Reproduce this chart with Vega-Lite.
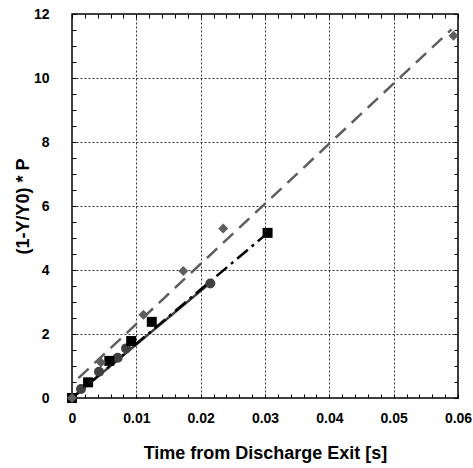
{
  "$schema": "https://vega.github.io/schema/vega-lite/v6.json",
  "width": 386,
  "height": 384,
  "autosize": "none",
  "padding": {"left": 72, "top": 14, "right": 15, "bottom": 70},
  "background": "white",
  "config": {
    "view": {"stroke": "black", "strokeWidth": 1.5},
    "axis": {
      "labelFontWeight": "bold",
      "labelFontSize": 14,
      "labelColor": "black",
      "titleFontWeight": "bold",
      "titleFontSize": 18,
      "titleColor": "black",
      "tickColor": "black"
    }
  },
  "datasets": {
    "pts": [
      {"series": "20 Torr", "t": 0, "v": 0},
      {"series": "20 Torr", "t": 0.0014, "v": 0.28},
      {"series": "20 Torr", "t": 0.0042, "v": 0.82},
      {"series": "20 Torr", "t": 0.0071, "v": 1.26},
      {"series": "20 Torr", "t": 0.0084, "v": 1.55},
      {"series": "20 Torr", "t": 0.0215, "v": 3.58},
      {"series": "30 Torr", "t": 0, "v": 0},
      {"series": "30 Torr", "t": 0.0025, "v": 0.49},
      {"series": "30 Torr", "t": 0.0058, "v": 1.16},
      {"series": "30 Torr", "t": 0.0092, "v": 1.78},
      {"series": "30 Torr", "t": 0.0124, "v": 2.38},
      {"series": "30 Torr", "t": 0.0304, "v": 5.16},
      {"series": "50 Torr", "t": 0, "v": 0},
      {"series": "50 Torr", "t": 0.0045, "v": 1.11},
      {"series": "50 Torr", "t": 0.0111, "v": 2.6},
      {"series": "50 Torr", "t": 0.0173, "v": 3.97},
      {"series": "50 Torr", "t": 0.0235, "v": 5.3},
      {"series": "50 Torr", "t": 0.0593, "v": 11.32}
    ],
    "fits": [
      {"series": "20 Torr", "t": 0, "v": 0},
      {"series": "20 Torr", "t": 0.0215, "v": 3.6},
      {"series": "30 Torr", "t": 0, "v": 0},
      {"series": "30 Torr", "t": 0.0302, "v": 5.12},
      {"series": "50 Torr", "t": 0.001, "v": 0.62},
      {"series": "50 Torr", "t": 0.059, "v": 11.52}
    ]
  },
  "resolve": {"axis": {"x": "independent", "y": "independent"}},
  "layer": [
    {
      "data": {"name": "pts"},
      "mark": {"type": "point", "opacity": 0},
      "encoding": {
        "x": {
          "field": "t", "type": "quantitative",
          "scale": {"domain": [0, 0.06], "nice": false, "zero": false},
          "axis": {
            "orient": "bottom", "title": null, "labels": false, "ticks": false, "domain": false,
            "grid": true, "gridColor": "#333333", "gridDash": [2, 2], "gridWidth": 1, "gridOpacity": 1,
            "values": [0.01, 0.02, 0.03, 0.04, 0.05]
          }
        },
        "y": {
          "field": "v", "type": "quantitative",
          "scale": {"domain": [0, 12], "nice": false, "zero": false},
          "axis": {
            "orient": "left", "title": null, "labels": false, "ticks": false, "domain": false,
            "grid": true, "gridColor": "#333333", "gridDash": [2, 2], "gridWidth": 1, "gridOpacity": 1,
            "values": [2, 4, 6, 8, 10]
          }
        }
      }
    },
    {
      "data": {"name": "fits"},
      "mark": {"type": "line", "strokeWidth": 2.5},
      "encoding": {
        "x": {
          "field": "t", "type": "quantitative",
          "scale": {"domain": [0, 0.06], "nice": false, "zero": false},
          "axis": {
            "orient": "top", "title": null, "labels": false, "grid": false, "domain": false,
            "tickSize": -4,
            "values": [0,0.002,0.004,0.006,0.008,0.01,0.012,0.014,0.016,0.018,0.02,0.022,0.024,0.026,0.028,0.03,0.032,0.034,0.036,0.038,0.04,0.042,0.044,0.046,0.048,0.05,0.052,0.054,0.056,0.058,0.06]
          }
        },
        "y": {
          "field": "v", "type": "quantitative",
          "scale": {"domain": [0, 12], "nice": false, "zero": false},
          "axis": {
            "orient": "right", "title": null, "labels": false, "grid": false, "domain": false,
            "tickSize": -4,
            "values": [0,0.5,1,1.5,2,2.5,3,3.5,4,4.5,5,5.5,6,6.5,7,7.5,8,8.5,9,9.5,10,10.5,11,11.5,12]
          }
        },
        "detail": {"field": "series"},
        "color": {
          "field": "series", "type": "nominal",
          "scale": {"domain": ["20 Torr", "30 Torr", "50 Torr"], "range": ["#404040", "#000000", "#5e5e5e"]},
          "legend": null
        },
        "strokeDash": {
          "field": "series", "type": "nominal",
          "scale": {"domain": ["20 Torr", "30 Torr", "50 Torr"], "range": [[1, 0], [14, 5, 3, 5], [14, 8]]},
          "legend": null
        }
      }
    },
    {
      "data": {"name": "pts"},
      "mark": {"type": "point", "filled": true, "opacity": 1, "size": 100},
      "encoding": {
        "x": {
          "field": "t", "type": "quantitative",
          "scale": {"domain": [0, 0.06], "nice": false, "zero": false},
          "axis": {
            "orient": "bottom",
            "title": "Time from Discharge Exit [s]",
            "titlePadding": 19,
            "labelPadding": 17,
            "grid": false,
            "domain": false,
            "labelFlush": false,
            "tickSize": -4,
            "format": ".2~f",
            "labelExpr": "abs(datum.value*100 - round(datum.value*100)) < 0.001 ? datum.label : ''",
            "values": [0,0.002,0.004,0.006,0.008,0.01,0.012,0.014,0.016,0.018,0.02,0.022,0.024,0.026,0.028,0.03,0.032,0.034,0.036,0.038,0.04,0.042,0.044,0.046,0.048,0.05,0.052,0.054,0.056,0.058,0.06]
          }
        },
        "y": {
          "field": "v", "type": "quantitative",
          "scale": {"domain": [0, 12], "nice": false, "zero": false},
          "axis": {
            "orient": "left",
            "title": "(1-Y/Y0) * P",
            "titlePadding": 1,
            "labelPadding": 27,
            "grid": false,
            "domain": false,
            "labelFlush": false,
            "tickSize": -4,
            "format": ".1~f",
            "labelExpr": "datum.value % 2 == 0 ? datum.label : ''",
            "values": [0,0.5,1,1.5,2,2.5,3,3.5,4,4.5,5,5.5,6,6.5,7,7.5,8,8.5,9,9.5,10,10.5,11,11.5,12]
          }
        },
        "color": {
          "field": "series", "type": "nominal",
          "scale": {"domain": ["20 Torr", "30 Torr", "50 Torr"], "range": ["#404040", "#000000", "#5e5e5e"]},
          "legend": null
        },
        "shape": {
          "field": "series", "type": "nominal",
          "scale": {"domain": ["20 Torr", "30 Torr", "50 Torr"], "range": ["circle", "square", "diamond"]},
          "legend": {
            "orient": "none",
            "legendX": 210,
            "legendY": 297,
            "title": null,
            "strokeColor": "black",
            "fillColor": "white",
            "padding": 6,
            "labelFontSize": 13,
            "symbolSize": 100,
            "symbolFillColor": "#333333"
          }
        }
      }
    }
  ]
}
